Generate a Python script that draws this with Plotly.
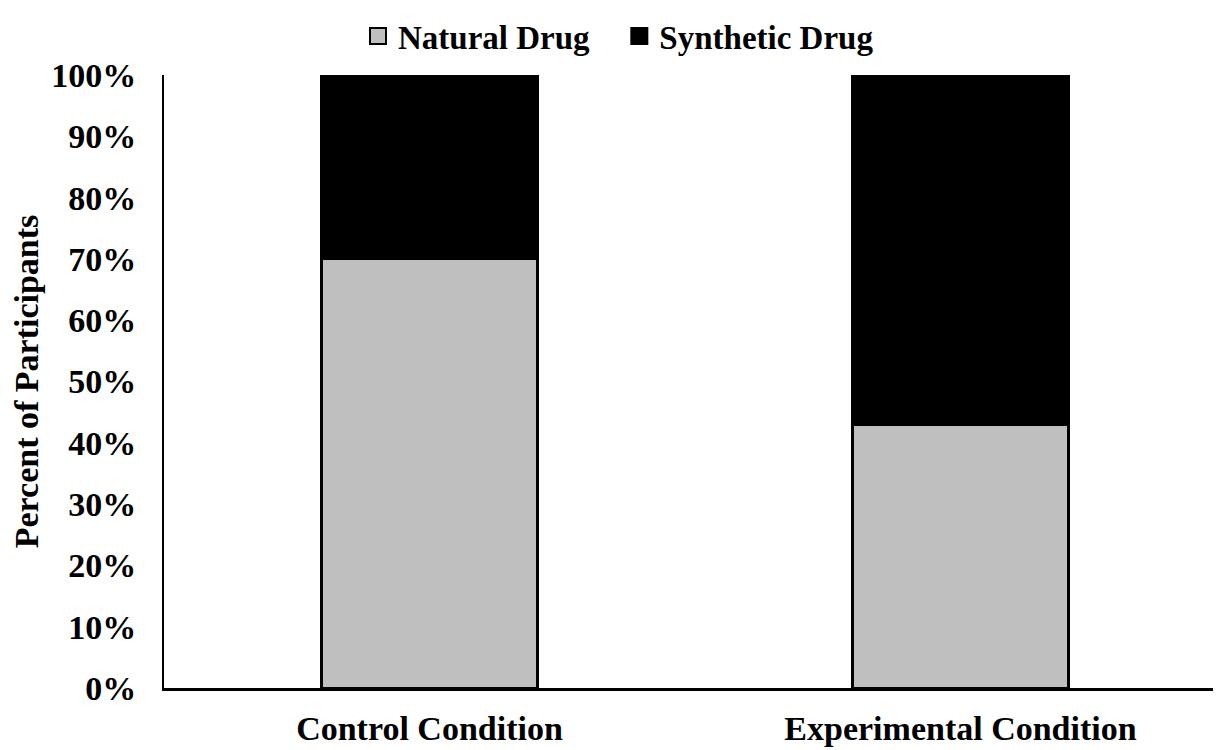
import plotly.graph_objects as go

categories = ["Control Condition", "Experimental Condition"]
natural = [70, 43]
synthetic = [30, 57]
y_ticks = [0, 10, 20, 30, 40, 50, 60, 70, 80, 90, 100]

font_family = "Liberation Serif, Times New Roman, serif"
gray = "#bfbfbf"

fig = go.Figure()
fig.add_trace(go.Bar(
    x=categories, y=natural, name="Natural Drug", showlegend=False,
    marker=dict(color=gray, line=dict(color="#000000", width=2.5)),
))
fig.add_trace(go.Bar(
    x=categories, y=synthetic, name="Synthetic Drug", showlegend=False,
    marker=dict(color="#000000", line=dict(color="#000000", width=2.5)),
))
# legend entries with larger square swatches
fig.add_trace(go.Scatter(
    x=[None], y=[None], mode="markers", name="<b>Natural Drug</b>" + "\u00a0" * 3,
    marker=dict(symbol="square", size=20, color=gray, line=dict(color="black", width=2)),
))
fig.add_trace(go.Scatter(
    x=[None], y=[None], mode="markers", name="<b>Synthetic Drug</b>",
    marker=dict(symbol="square", size=20, color="black", line=dict(color="black", width=2)),
))

fig.update_layout(
    barmode="stack",
    bargap=0.5925,
    width=1221, height=750,
    margin=dict(l=156, r=3, t=67, b=70, autoexpand=False),
    paper_bgcolor="white", plot_bgcolor="white",
    font=dict(family=font_family, size=34, color="black"),
    legend=dict(orientation="h", x=0.5, xanchor="center", xref="container",
                y=1.0, yanchor="top", yref="container",
                font=dict(size=33), itemwidth=30, traceorder="normal"),
    showlegend=True,
)

fig.update_yaxes(
    range=[0, 100], tickvals=y_ticks, ticktext=[f"<b>{v}%</b>" for v in y_ticks],
    showgrid=False, showline=True, linecolor="black", linewidth=2,
    ticks="", ticklabelstandoff=19, tickfont=dict(size=34),
    title=dict(text="<b>Percent of Participants</b>", font=dict(size=34), standoff=5),
    zeroline=False,
)
fig.update_xaxes(
    showgrid=False, showline=True, linecolor="black", linewidth=3,
    ticks="", tickvals=categories, ticktext=[f"<b>{c}</b>" for c in categories],
    tickfont=dict(size=34), ticklabelstandoff=8,
)

fig.write_html("out.html")
